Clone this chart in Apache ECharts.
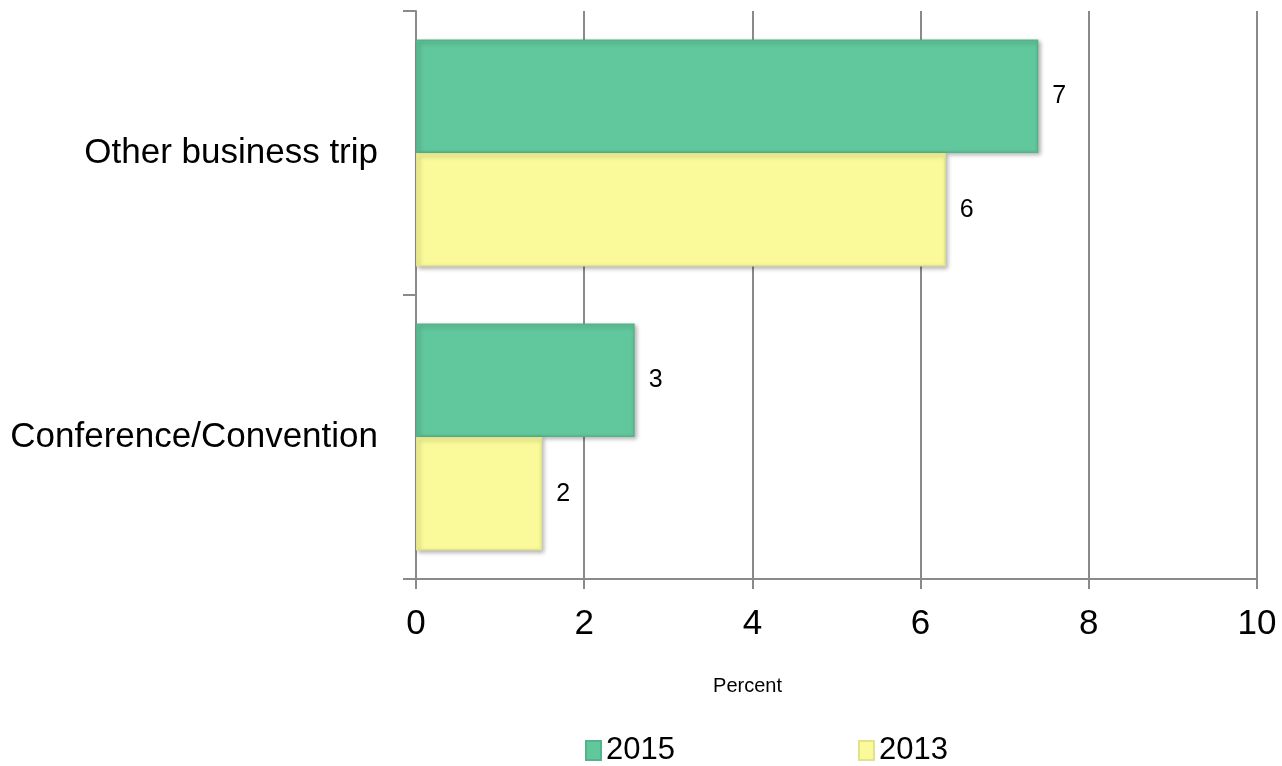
<!DOCTYPE html>
<html>
<head>
<meta charset="utf-8">
<script src="https://cdn.jsdelivr.net/npm/echarts@6/dist/echarts.min.js"></script>
<style>
  html, body { margin: 0; padding: 0; background: #ffffff; }
  #chart { width: 1282px; height: 766px; }
</style>
</head>
<body>
<div id="chart"></div>
<script>
// Trip purposes, listed top to bottom
const categories = ['Other business trip', 'Conference/Convention'];
// Share of trips, percent
const values2015 = [7.4, 2.6];
const values2013 = [6.3, 1.5];
const seriesNames = ['2015', '2013'];
const xTicks = [0, 2, 4, 6, 8, 10];

const FONT = '"Liberation Sans", Arial, sans-serif';
const AXIS_GRAY = '#8a8a8a';

function barStyle(fill, edge) {
  return {
    color: fill,
    borderColor: edge,
    borderWidth: 1.5,
    shadowColor: 'rgba(0,0,0,0.28)',
    shadowBlur: 4,
    shadowOffsetX: 2,
    shadowOffsetY: 2
  };
}

const valueLabel = {
  show: true,
  position: 'right',
  distance: 14,
  fontFamily: FONT,
  fontSize: 25,
  color: '#000',
  formatter: p => String(Math.round(p.value))
};

const chart = echarts.init(document.getElementById('chart'), null, { renderer: 'canvas' });
chart.setOption({
  animation: false,
  backgroundColor: '#ffffff',
  grid: {
    left: 416, right: 25, top: 11, bottom: 187,
    containLabel: false,
    outerBoundsMode: 'none'
  },
  legend: {
    data: seriesNames,
    left: 580,
    top: 730,
    orient: 'horizontal',
    icon: 'rect',
    itemWidth: 15,
    itemHeight: 19,
    itemGap: 183,
    textStyle: { fontFamily: FONT, fontSize: 31, color: '#000' }
  },
  xAxis: {
    type: 'value',
    min: xTicks[0],
    max: xTicks[xTicks.length - 1],
    interval: xTicks[1] - xTicks[0],
    name: 'Percent',
    nameLocation: 'middle',
    nameGap: 97,
    nameTextStyle: {
      fontFamily: FONT, fontSize: 20, color: '#000',
      padding: [0, 178, 0, 0]
    },
    axisLine: { show: true, lineStyle: { color: AXIS_GRAY, width: 2 } },
    axisTick: { show: true, length: 10, lineStyle: { color: AXIS_GRAY, width: 2 } },
    axisLabel: { fontFamily: FONT, fontSize: 35, color: '#000', margin: 28 },
    splitLine: { show: true, lineStyle: { color: AXIS_GRAY, width: 2 } }
  },
  yAxis: {
    type: 'category',
    data: categories,
    inverse: true,
    axisLine: { show: true, lineStyle: { color: AXIS_GRAY, width: 2 } },
    axisTick: { show: true, length: 13, lineStyle: { color: AXIS_GRAY, width: 2 } },
    axisLabel: { fontFamily: FONT, fontSize: 35, color: '#000', margin: 38 },
    splitLine: { show: false }
  },
  series: [
    {
      name: seriesNames[0],
      type: 'bar',
      data: values2015,
      barGap: '0%',
      barCategoryGap: '20%',
      itemStyle: barStyle('#61c79c', '#55b38b'),
      label: valueLabel
    },
    {
      name: seriesNames[1],
      type: 'bar',
      data: values2013,
      barGap: '0%',
      barCategoryGap: '20%',
      itemStyle: barStyle('#fafa9a', '#e2e28a'),
      label: valueLabel
    }
  ]
});
</script>
</body>
</html>
